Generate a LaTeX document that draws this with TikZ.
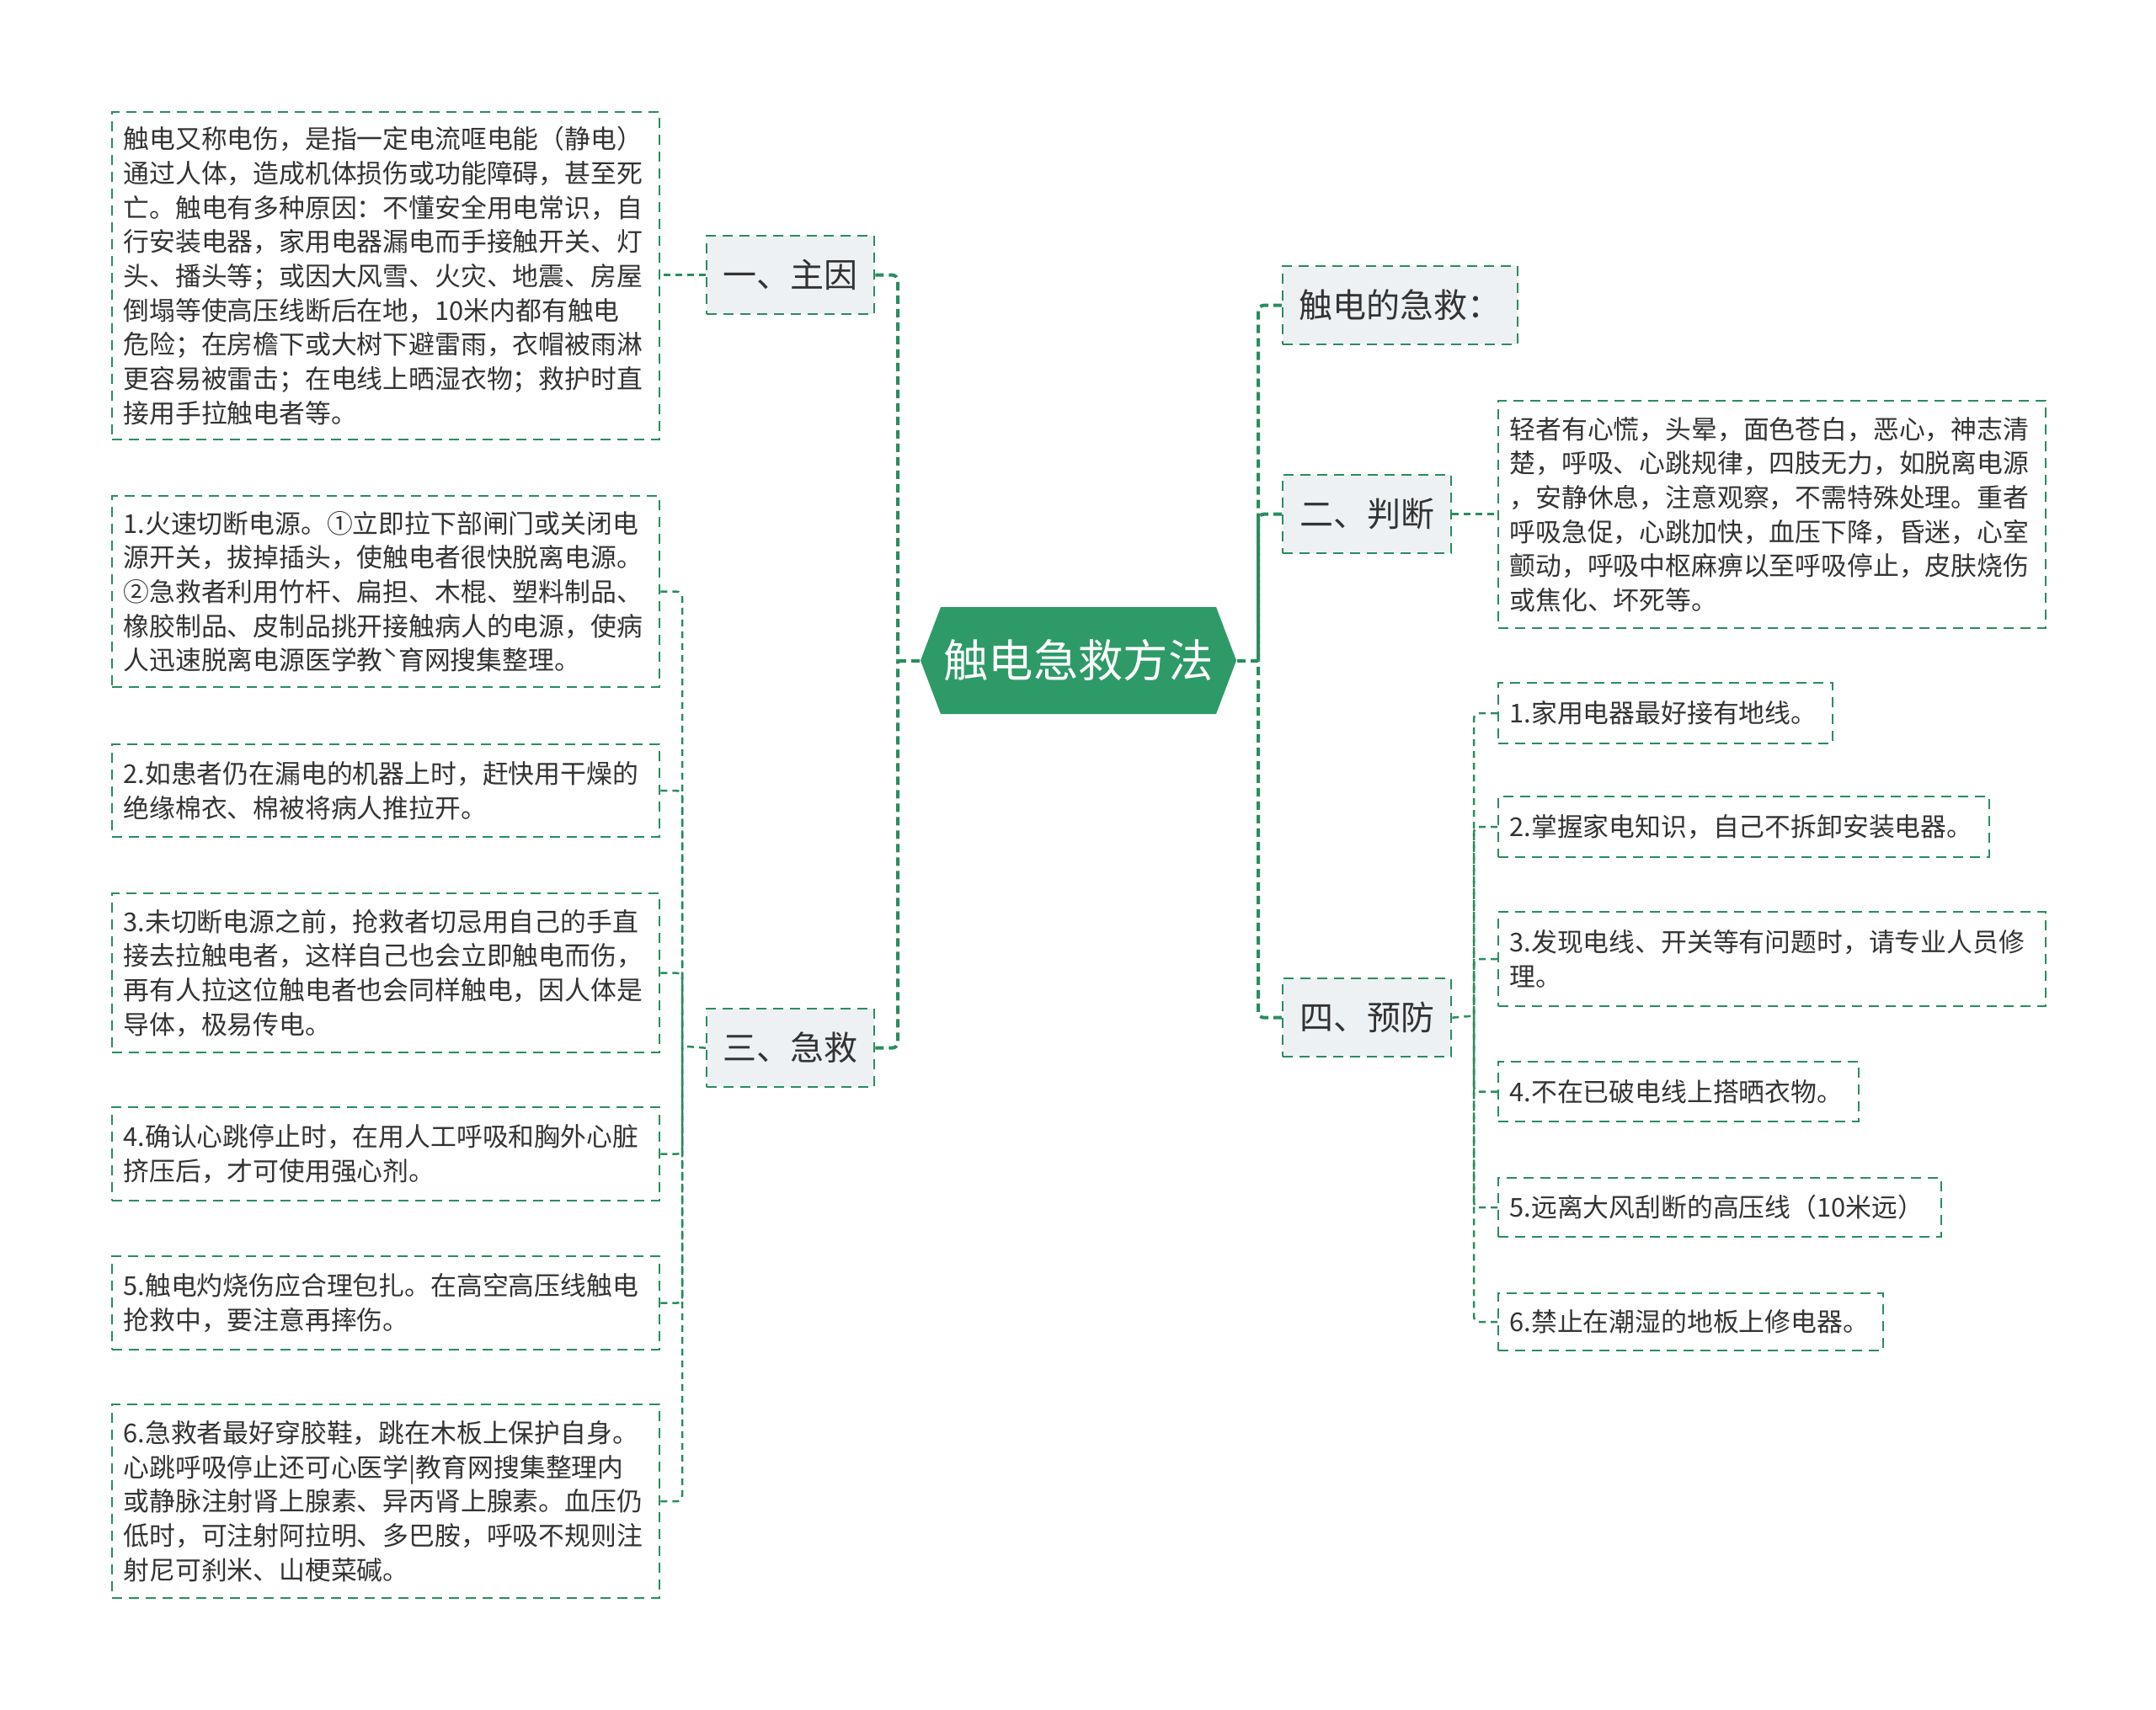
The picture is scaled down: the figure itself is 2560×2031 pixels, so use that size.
\documentclass[tikz,border=0pt]{standalone}
\usepackage{fontspec}
\newfontfamily\cjk{Noto Sans CJK SC}
\definecolor{cgreen}{HTML}{2E9A68}
\definecolor{lgreen}{HTML}{2A8C5E}
\definecolor{bfill}{HTML}{EEF1F4}
\definecolor{txt}{HTML}{333333}
\tikzset{
  leaf/.style={draw=lgreen, dash pattern=on 3.6pt off 2.4pt, line width=0.7pt,
    fill=white, font=\cjk\fontsize{9.25}{12.2}\selectfont, text=txt, align=left,
    inner xsep=4pt, inner ysep=0pt, anchor=north west},
  topic/.style={draw=lgreen, dash pattern=on 3.6pt off 2.4pt, line width=0.7pt,
    fill=bfill, font=\cjk\fontsize{12}{14}\selectfont, text=txt,
    inner sep=0pt, anchor=north west, minimum height=27.9pt},
  centre/.style={minimum width=112.5pt, minimum height=38.1pt, inner sep=0pt,
    text=white, font=\cjk\fontsize{16}{18}\selectfont,
    path picture={\fill[cgreen] (path picture bounding box.west)
      -- ([xshift=7.2pt]path picture bounding box.north west)
      -- ([xshift=-7.2pt]path picture bounding box.north east)
      -- (path picture bounding box.east)
      -- ([xshift=-7.2pt]path picture bounding box.south east)
      -- ([xshift=7.2pt]path picture bounding box.south west) -- cycle;}},
  mainline/.style={draw=lgreen, line width=1.2pt, dash pattern=on 3pt off 1.8pt, rounded corners=2pt},
  subline/.style={draw=lgreen, line width=0.75pt, dash pattern=on 2.4pt off 1.8pt, rounded corners=2pt}
}
\begin{document}
\begin{tikzpicture}[x=0.3pt,y=-0.3pt]
\useasboundingbox (0,0) rectangle (2560,2031);
\fill[white] (0,0) rectangle (2560,2031);

% centre
\node[centre] (c) at (1280.5,784.5) {触电急救方法};

% level 1
\node[topic, minimum width=59.7pt] (zy) at (838,279) {一、主因};
\node[topic, minimum width=59.7pt] (jq) at (838,1197) {三、急救};
\node[topic, minimum width=83.7pt] (jjs) at (1522,315) {触电的急救：};
\node[topic, minimum width=60pt] (pd) at (1522,563) {二、判断};
\node[topic, minimum width=60pt] (yf) at (1522,1161) {四、预防};

% left leaves
\node[leaf, text width=187pt, minimum height=116.7pt] (A0) at (132,132) {触电又称电伤，是指一定电流哐电能（静电）\\通过人体，造成机体损伤或功能障碍，甚至死\\亡。触电有多种原因：不懂安全用电常识，自\\行安装电器，家用电器漏电而手接触开关、灯\\头、播头等；或因大风雪、火灾、地震、房屋\\倒塌等使高压线断后在地，10米内都有触电\\危险；在房檐下或大树下避雷雨，衣帽被雨淋\\更容易被雷击；在电线上晒湿衣物；救护时直\\接用手拉触电者等。};
\node[leaf, text width=187pt, minimum height=68.1pt] (L1) at (132,588) {1.火速切断电源。①立即拉下部闸门或关闭电\\源开关，拔掉插头，使触电者很快脱离电源。\\②急救者利用竹杆、扁担、木棍、塑料制品、\\橡胶制品、皮制品挑开接触病人的电源，使病\\人迅速脱离电源医学教ˋ育网搜集整理。};
\node[leaf, text width=187pt, minimum height=33pt] (L2) at (132,883) {2.如患者仍在漏电的机器上时，赶快用干燥的\\绝缘棉衣、棉被将病人推拉开。};
\node[leaf, text width=187pt, minimum height=56.7pt] (L3) at (132,1060) {3.未切断电源之前，抢救者切忌用自己的手直\\接去拉触电者，这样自己也会立即触电而伤，\\再有人拉这位触电者也会同样触电，因人体是\\导体，极易传电。};
\node[leaf, text width=187pt, minimum height=33.3pt] (L4) at (132,1314) {4.确认心跳停止时，在用人工呼吸和胸外心脏\\挤压后，才可使用强心剂。};
\node[leaf, text width=187pt, minimum height=33.3pt] (L5) at (132,1491) {5.触电灼烧伤应合理包扎。在高空高压线触电\\抢救中，要注意再摔伤。};
\node[leaf, text width=187pt, minimum height=69pt] (L6) at (132,1667) {6.急救者最好穿胶鞋，跳在木板上保护自身。\\心跳呼吸停止还可心医学|教育网搜集整理内\\或静脉注射肾上腺素、异丙肾上腺素。血压仍\\低时，可注射阿拉明、多巴胺，呼吸不规则注\\射尼可刹米、山梗菜碱。};

% right leaves
\node[leaf, text width=187pt, minimum height=81pt] (B0) at (1778,475) {轻者有心慌，头晕，面色苍白，恶心，神志清\\楚，呼吸、心跳规律，四肢无力，如脱离电源\\，安静休息，注意观察，不需特殊处理。重者\\呼吸急促，心跳加快，血压下降，昏迷，心室\\颤动，呼吸中枢麻痹以至呼吸停止，皮肤烧伤\\或焦化、坏死等。};
\node[leaf, text width=111.1pt, minimum height=21.6pt] (P1) at (1778,810) {1.家用电器最好接有地线。};
\node[leaf, text width=166.9pt, minimum height=21.6pt] (P2) at (1778,945) {2.掌握家电知识，自己不拆卸安装电器。};
\node[leaf, text width=187pt, minimum height=33.6pt] (P3) at (1778,1082) {3.发现电线、开关等有问题时，请专业人员修\\理。};
\node[leaf, text width=120.4pt, minimum height=21.3pt] (P4) at (1778,1260) {4.不在已破电线上搭晒衣物。};
\node[leaf, text width=149.8pt, minimum height=21pt] (P5) at (1778,1398) {5.远离大风刮断的高压线（10米远）};
\node[leaf, text width=129.1pt, minimum height=20.4pt] (P6) at (1778,1535) {6.禁止在潮湿的地板上修电器。};

% trunks
\coordinate (LT) at (1066,784.5);
\coordinate (RT) at (1494,784.5);
\coordinate (JT) at (810,1242.5);
\coordinate (PT) at (1750,1206.5);

\draw[mainline] (c.west) -- (LT);
\draw[mainline] (zy.east) -| (LT);
\draw[mainline] (jq.east) -| (LT);
\draw[mainline] (c.east) -- (RT);
\draw[mainline] (jjs.west) -| (RT);
\draw[mainline] (pd.west) -| (RT);
\draw[mainline] (yf.west) -| (RT);

\draw[subline] (zy.west) -- (zy.west -| A0.east);
\draw[subline] (pd.east) -- (pd.east -| B0.west);

\draw[subline] (jq.west) -- (JT);
\foreach \n in {L1,L2,L3,L4,L5,L6} \draw[subline] (\n.east) -| (JT);

\draw[subline] (yf.east) -- (PT);
\foreach \n in {P1,P2,P3,P4,P5,P6} \draw[subline] (\n.west) -| (PT);
\end{tikzpicture}
\end{document}
